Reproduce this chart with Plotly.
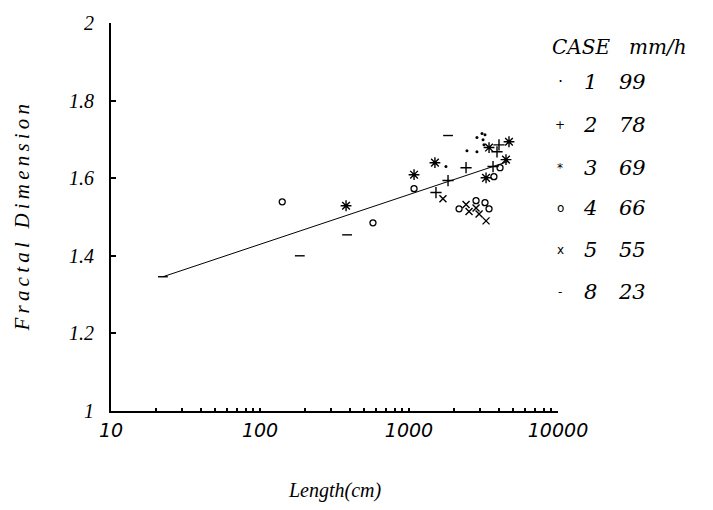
import plotly.graph_objects as go

# ---- data ----
case1_len = [3090, 3236, 2857, 3140, 3185, 2449, 2857, 1770]
case1_fd = [1.715, 1.712, 1.705, 1.699, 1.686, 1.671, 1.668, 1.630]

case2_len = [4018, 3896, 2415, 3664, 1828, 1517]
case2_fd = [1.686, 1.668, 1.627, 1.630, 1.594, 1.563]

case3_len = [3445, 4690, 4477, 3289, 1493, 1081, 378]
case3_fd = [1.679, 1.694, 1.648, 1.601, 1.640, 1.609, 1.529]

case4_len = [4083, 3715, 1081, 573, 141, 2168, 2818, 3236, 3445]
case4_fd = [1.627, 1.604, 1.573, 1.485, 1.539, 1.521, 1.542, 1.537, 1.521]

case5_len = [1690, 2415, 2529, 2818, 2953, 3289]
case5_fd = [1.547, 1.532, 1.514, 1.523, 1.508, 1.490]

case8_len = [1828, 185, 384, 22.3]
case8_fd = [1.710, 1.400, 1.454, 1.346]

fit_len = [22.3, 4615]
fit_fd = [1.346, 1.643]

legend_cases = ["1", "2", "3", "4", "5", "8"]
legend_rates = ["99", "78", "69", "66", "55", "23"]
legend_glyphs = ["·", "+", "*", "o", "x", "-"]

x_tickvals = [10, 100, 1000, 10000]
x_ticktext = ["10", "100", "1000", "10000"]
y_tickvals = [1, 1.2, 1.4, 1.6, 1.8, 2]
y_ticktext = ["1", "1.2", "1.4", "1.6", "1.8", "2"]
x_minor = [m * d for d in (10, 100, 1000) for m in range(2, 10)] + [100, 1000, 10000]

SERIF = "Liberation Serif"
WIDE = "DejaVu Serif"
fig = go.Figure()

fig.add_trace(go.Scatter(x=fit_len, y=fit_fd, mode="lines",
                         line=dict(color="black", width=1), showlegend=False))

mk_line = dict(color="black", width=1.4)
fig.add_trace(go.Scatter(x=case1_len, y=case1_fd, mode="markers",
                         marker=dict(symbol="circle", size=3, color="black"), showlegend=False))
fig.add_trace(go.Scatter(x=case2_len, y=case2_fd, mode="markers",
                         marker=dict(symbol="cross-thin-open", size=8, line=mk_line, color="black"), showlegend=False))
fig.add_trace(go.Scatter(x=case3_len, y=case3_fd, mode="markers",
                         marker=dict(symbol="asterisk-open", size=9, line=mk_line, color="black"), showlegend=False))
fig.add_trace(go.Scatter(x=case4_len, y=case4_fd, mode="markers",
                         marker=dict(symbol="circle-open", size=6, line=dict(color="black", width=1.3),
                                     color="black"), showlegend=False))
fig.add_trace(go.Scatter(x=case5_len, y=case5_fd, mode="markers",
                         marker=dict(symbol="x-thin-open", size=7, line=mk_line, color="black"), showlegend=False))
fig.add_trace(go.Scatter(x=case8_len, y=case8_fd, mode="markers",
                         marker=dict(symbol="line-ew-open", size=7, line=mk_line, color="black"), showlegend=False))

THIN = "\u2009"
annotations = []
# axis titles
annotations.append(dict(text="<i>Length(cm)</i>", xref="paper", yref="paper", x=0.5, y=-0.205,
                        xanchor="center", yanchor="middle", showarrow=False,
                        font=dict(family=SERIF, size=20, color="black")))
annotations.append(dict(text="<i>" + THIN.join("Fractal Dimension") + "</i>", xref="paper", yref="paper",
                        x=-0.198, y=0.5, xanchor="center", yanchor="middle", textangle=-90, showarrow=False,
                        font=dict(family=SERIF, size=21, color="black")))
# legend header
annotations.append(dict(text="<i>CASE</i>", xref="paper", yref="paper", x=0.983, y=0.937,
                        xanchor="left", yanchor="middle", showarrow=False,
                        font=dict(family=WIDE, size=20, color="black")))
annotations.append(dict(text="<i>mm/h</i>", xref="paper", yref="paper", x=1.155, y=0.937,
                        xanchor="left", yanchor="middle", showarrow=False,
                        font=dict(family=WIDE, size=20, color="black")))
row_y = [0.848, 0.737, 0.626, 0.523, 0.415, 0.307]
for g, c, r, yy in zip(legend_glyphs, legend_cases, legend_rates, row_y):
    annotations.append(dict(text=g, xref="paper", yref="paper", x=1.005, y=yy, xanchor="center",
                            yanchor="middle", showarrow=False,
                            font=dict(family="DejaVu Sans", size=12 if g != "·" else 16, color="black")))
    annotations.append(dict(text="<i>%s</i>" % c, xref="paper", yref="paper", x=1.072, y=yy, xanchor="center",
                            yanchor="middle", showarrow=False, font=dict(family=WIDE, size=21, color="black")))
    annotations.append(dict(text="<i>%s</i>" % r, xref="paper", yref="paper", x=1.1665, y=yy, xanchor="center",
                            yanchor="middle", showarrow=False, font=dict(family=WIDE, size=21, color="black")))

fig.update_layout(
    width=713, height=510,
    margin=dict(l=111, r=155, t=23, b=99),
    paper_bgcolor="white", plot_bgcolor="white",
    showlegend=False,
    annotations=annotations,
    xaxis=dict(type="log", range=[1, 4], showgrid=False, zeroline=False,
               showline=True, linecolor="black", linewidth=2,
               tickvals=x_tickvals, ticktext=x_ticktext, ticks="inside", ticklen=3,
               tickwidth=2, tickcolor="black", ticklabelstandoff=1,
               tickfont=dict(family="DejaVu Sans", size=19, color="black", style="italic"),
               minor=dict(tickvals=x_minor, ticks="inside", ticklen=3, tickwidth=2, tickcolor="black",
                          showgrid=False)),
    yaxis=dict(range=[1, 2], showgrid=False, zeroline=False,
               showline=True, linecolor="black", linewidth=2,
               tickvals=y_tickvals, ticktext=y_ticktext, ticks="inside", ticklen=5,
               tickwidth=2, tickcolor="black", ticklabelstandoff=11,
               tickfont=dict(family=SERIF, size=20, color="black", style="italic")),
)

fig.write_html("out.html", config={"displayModeBar": False},
               post_script="document.body.style.margin='0px';")
